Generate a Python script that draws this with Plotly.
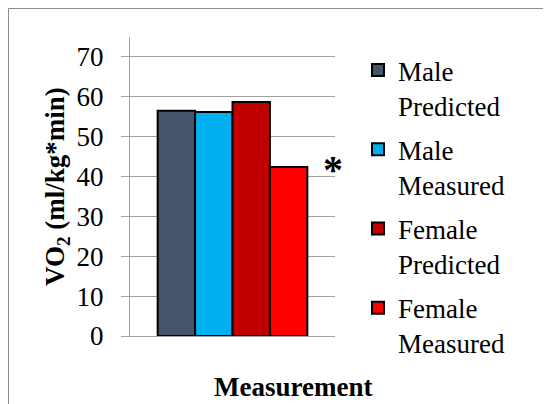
import plotly.graph_objects as go

series = ["Male<br>Predicted", "Male<br>Measured", "Female<br>Predicted", "Female<br>Measured"]
values = [56.5, 56.2, 58.7, 42.4]
colors = ["#44546A", "#00B0F0", "#C00000", "#FF0000"]
category = ["Measurement"]
y_ticks = [0, 10, 20, 30, 40, 50, 60, 70]

FONT = "Times New Roman"

fig = go.Figure()
for i, (name, v, c) in enumerate(zip(series, values, colors)):
    fig.add_trace(go.Bar(
        x=category, y=[v], name=name, legendgroup=f"g{i}",
        marker=dict(color=c, line=dict(color="black", width=2)),
    ))

# page body adds an 8px offset; figure coordinates are page coordinates minus 8
W, H = 543, 396
L, R, T, B = 122, 216, 29, 68
pw, ph = W - L - R, H - T - B
BOT = H - B


def px(fx):
    return (fx - L) / pw


def py(fy):
    return (BOT - fy) / ph


fig.update_layout(
    width=W, height=H,
    margin=dict(l=L, r=R, t=T, b=B),
    paper_bgcolor="white", plot_bgcolor="white",
    barmode="group", bargap=0.27, bargroupgap=0,
    font=dict(family=FONT, color="black", size=26),
    showlegend=True,
    legend=dict(
        x=px(350), xanchor="left",
        y=py(38), yanchor="top",
        font=dict(size=27, family=FONT, color="black"),
        valign="top",
        traceorder="grouped",
        tracegroupgap=6,
        maxheight=400,
        bgcolor="rgba(0,0,0,0)",
    ),
    xaxis=dict(
        showticklabels=False, showline=True, linecolor="#A0A0A0", linewidth=1,
        ticks="", showgrid=False,
    ),
    yaxis=dict(
        range=[0, 75], tickvals=y_ticks, showgrid=True, gridcolor="#A0A0A0",
        gridwidth=1, showline=True, linecolor="#A0A0A0", linewidth=1,
        ticks="outside", ticklen=8, tickcolor="#A0A0A0",
        tickfont=dict(size=27, family=FONT, color="black"), zeroline=False,
        ticklabelstandoff=12,
    ),
    annotations=[
        dict(text="<b>VO<sub>2</sub> (ml/kg*min)</b>", textangle=-90,
             xref="paper", yref="paper", x=px(49), y=py(179),
             xanchor="center", yanchor="middle", showarrow=False,
             font=dict(size=27, family=FONT, color="black")),
        dict(text="<b>Measurement</b>", xref="paper", yref="paper",
             x=px(285), y=py(379), xanchor="center", yanchor="middle",
             showarrow=False, font=dict(size=27, family=FONT, color="black")),
        dict(text="<b>*</b>", xref="paper", yref="y", x=px(325), y=values[3],
             xanchor="center", yanchor="middle", showarrow=False, yshift=-3,
             font=dict(size=40, family=FONT, color="black")),
    ],
    shapes=[
        dict(type="rect", xref="paper", yref="paper",
             x0=px(0.5), x1=px(W + 20),
             y0=py(H + 20), y1=py(0.5),
             line=dict(color="#8C8C8C", width=1)),
    ],
)

fig.write_html("out.html")
